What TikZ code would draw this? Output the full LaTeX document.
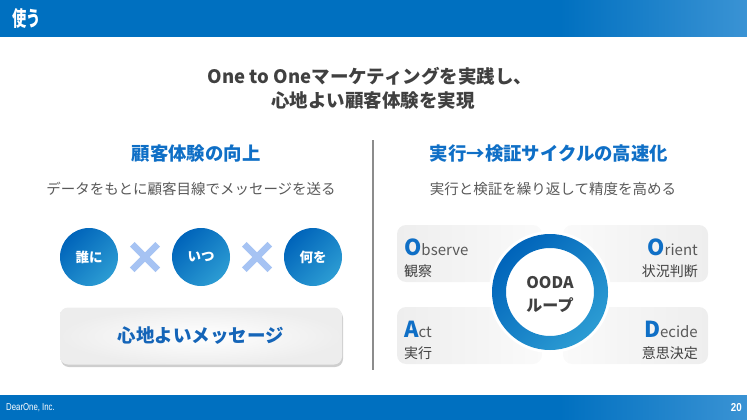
\documentclass[tikz,border=0pt]{standalone}
\usepackage{fontspec}
\setmainfont{Noto Sans CJK JP}
\newfontfamily\footfont{Liberation Sans}
\usetikzlibrary{shapes.misc,shadows}
\definecolor{barblue}{HTML}{0070C0}
\definecolor{barlight}{HTML}{3A93D4}
\definecolor{bubA}{HTML}{0064BA}
\definecolor{bubB}{HTML}{2C9CD3}
\definecolor{headblue}{HTML}{0F6FC6}
\definecolor{msgblue}{HTML}{1565B8}
\definecolor{xblue}{HTML}{A6C3F3}
\definecolor{darktext}{HTML}{404040}
\definecolor{subtext}{HTML}{595959}
\definecolor{boxgray}{HTML}{EEEEEE}
\definecolor{rulegray}{HTML}{8C8C8C}

\begin{document}
\begin{tikzpicture}[x=1pt,y=-1pt,
  bubble/.style={circle,minimum size=58pt,inner sep=0pt,top color=bubA,bottom color=bubB,shading angle=45,
    text=white,font=\fontsize{13.5}{16}\selectfont\bfseries},
  times/.style={cross out,draw=xblue,line width=6.5pt,minimum size=19pt,inner sep=0pt},
  oodabox/.style={rectangle,rounded corners=9pt,minimum width=145pt,minimum height=57pt,inner sep=0pt},
  head/.style={text=headblue,font=\fontsize{18.4}{21}\selectfont\bfseries},
  sub/.style={text=subtext,font=\fontsize{14.5}{17}\selectfont},
  lead/.style={text=darktext,font=\fontsize{18.5}{21}\selectfont\bfseries},
  word/.style={text=subtext,font=\fontsize{15}{17}\selectfont,inner sep=0pt},
  kanji/.style={text=darktext,font=\fontsize{14}{17}\selectfont,inner sep=0pt}]

  \useasboundingbox (0,0) rectangle (747,420);

  % header and footer bars
  \fill[barblue] (0,0) rectangle (747,37);
  \shade[left color=barblue,right color=barlight] (560,0) rectangle (747,37);
  \fill[barblue] (0,395) rectangle (747,420);
  \shade[left color=barblue,right color=barlight] (560,395) rectangle (747,420);
  \node[anchor=west,text=white,font=\fontsize{21}{23}\selectfont\bfseries,inner sep=0pt] (title) at (12,18) {\scalebox{0.68}[1]{使う}};
  \node[anchor=west,text=white,font=\footfont\fontsize{10}{11}\selectfont,inner sep=0pt] (corp) at (6,408) {\scalebox{0.78}[1]{DearOne, Inc.}};
  \node[anchor=east,text=white,font=\footfont\fontsize{11.5}{12}\selectfont\bfseries,inner sep=0pt] (page) at (742,408) {\scalebox{0.85}[1]{20}};

  \node[lead] (lead1) at (370,76) {One to Oneマーケティングを実践し、};
  \node[lead] (lead2) at (373,101) {心地よい顧客体験を実現};

  % left half
  \node[head] (lhead) at (196,154) {顧客体験の向上};
  \node[sub] (lsub) at (191,189) {データをもとに顧客目線でメッセージを送る};

  \node[bubble] (who) at (89,257) {誰に};
  \node[bubble] (when) at (201,257) {いつ};
  \node[bubble] (what) at (313,257) {何を};
  \node[times] (x1) at (145,257) {};
  \node[times] (x2) at (257,257) {};

  \node[rectangle,rounded corners=8pt,minimum width=282pt,minimum height=57pt,
    inner color=white,outer color=gray!14,
    drop shadow={shadow xshift=1pt,shadow yshift=-2.5pt,opacity=0.35,fill=black!55},
    text=msgblue,font=\fontsize{18.5}{21}\selectfont\bfseries] (msg) at (201,336) {心地よいメッセージ};

  \draw[rulegray,line width=1.3pt] (373,140) -- (373,370);

  % right half
  \node[head] (rhead) at (549,154) {実行→検証サイクルの高速化};
  \node[sub] (rsub) at (553,189) {実行と検証を繰り返して精度を高める};

  \node[oodabox,left color=boxgray,right color=gray!4] (obox) at (469.5,253.5) {};
  \node[oodabox,left color=gray!4,right color=boxgray] (rbox) at (635.5,253.5) {};
  \node[oodabox,left color=boxgray,right color=gray!4] (abox) at (469.5,335.5) {};
  \node[oodabox,left color=gray!4,right color=boxgray] (dbox) at (635.5,335.5) {};

  \fill[white] (550,292) circle[radius=61];
  \shade[even odd rule,top color=bubA,bottom color=bubB,shading angle=45]
    (550,292) circle[radius=58] (550,292) circle[radius=44];
  \node[circle,minimum size=88pt,inner sep=0pt,align=center,text=darktext,
    font=\fontsize{16}{23}\selectfont\bfseries] (ooda) at (550,294) {OODA\\ループ};

  \node[word,anchor=base west] (obs) at (404,255) {{\fontsize{22}{24}\selectfont\bfseries\color{headblue}O}bserve};
  \node[kanji,anchor=base west] (obsj) at (404,276) {観察};
  \node[word,anchor=base east] (ori) at (698,255) {{\fontsize{22}{24}\selectfont\bfseries\color{headblue}O}rient};
  \node[kanji,anchor=base east] (orij) at (698,276) {状況判断};
  \node[word,anchor=base west] (act) at (404,337) {{\fontsize{22}{24}\selectfont\bfseries\color{headblue}A}ct};
  \node[kanji,anchor=base west] (actj) at (404,358) {実行};
  \node[word,anchor=base east] (dec) at (698,337) {{\fontsize{22}{24}\selectfont\bfseries\color{headblue}D}ecide};
  \node[kanji,anchor=base east] (decj) at (698,358) {意思決定};
\end{tikzpicture}
\end{document}
